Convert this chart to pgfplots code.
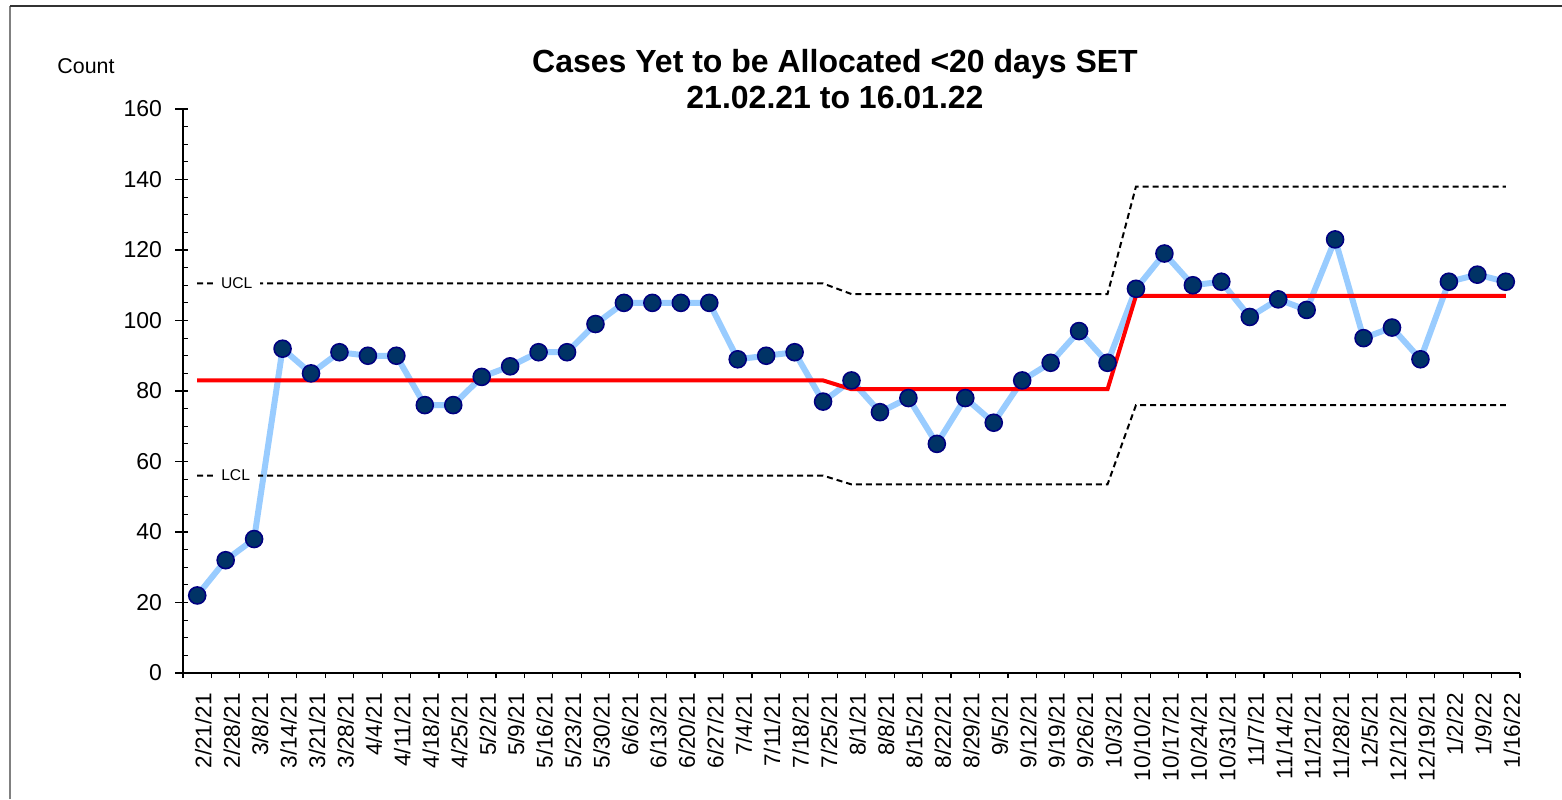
\documentclass[border=0pt]{standalone}
\usepackage{pgfplots}
\pgfplotsset{compat=1.18}
\usepackage{fontspec}
\setmainfont{Liberation Sans}
\definecolor{linebl}{HTML}{99CCFF}
\definecolor{mkfill}{HTML}{003366}
\definecolor{mkdraw}{HTML}{000080}
\begin{document}
\begin{tikzpicture}
\useasboundingbox (0,0) rectangle (781pt,399.5pt);
\draw[black!50,line width=1pt] (5pt,0) -- (5pt,396.5pt);
\draw[black!80,line width=1pt] (5pt,396.5pt) -- (781pt,396.5pt);
\node[font=\bfseries\fontsize{16}{18}\selectfont,align=center] at (417.5pt,360pt)
  {Cases Yet to be Allocated <20 days SET\\21.02.21 to 16.01.22};
\node[font=\fontsize{10.7}{12}\selectfont] at (43pt,366.5pt) {Count};
\begin{axis}[
  at={(91.5pt,63pt)},anchor=south west,
  scale only axis,width=668.5pt,height=282pt,
  axis lines=left,axis line style={-,line width=0.6pt},
  xmin=-0.5,xmax=46.5,ymin=0,ymax=160,
  ytick={0,20,...,160},minor y tick num=3,
  xtick={0,...,46},
  minor xtick={-0.5,0.5,...,46.5},
  xticklabels={2/21/21,2/28/21,3/8/21,3/14/21,3/21/21,3/28/21,4/4/21,4/11/21,4/18/21,4/25/21,5/2/21,5/9/21,5/16/21,5/23/21,5/30/21,6/6/21,6/13/21,6/20/21,6/27/21,7/4/21,7/11/21,7/18/21,7/25/21,8/1/21,8/8/21,8/15/21,8/22/21,8/29/21,9/5/21,9/12/21,9/19/21,9/26/21,10/3/21,10/10/21,10/17/21,10/24/21,10/31/21,11/7/21,11/14/21,11/21/21,11/28/21,12/5/21,12/12/21,12/19/21,1/2/22,1/9/22,1/16/22},
  tick align=outside,
  major tick length=6.5pt,minor tick length=2.5pt,
  major x tick style={draw=none},
  minor x tick style={black,line width=0.6pt},
  major y tick style={black,line width=0.6pt,xshift=2.5pt},
  minor y tick style={black,line width=0.6pt,xshift=2.5pt},
  x tick label style={rotate=90,anchor=east,font=\fontsize{11.3}{12}\selectfont,yshift=-3pt},
  y tick label style={font=\fontsize{11.5}{12}\selectfont,xshift=-0.5pt},
  /pgf/number format/assume math mode=true,
  clip=false,
]
\addplot[linebl,line width=3pt,mark=*,mark size=4.25pt,
  mark options={fill=mkfill,draw=mkdraw,line width=0.8pt}] coordinates {
(0,22)(1,32)(2,38)(3,92)(4,85)(5,91)(6,90)(7,90)(8,76)(9,76)
(10,84)(11,87)(12,91)(13,91)(14,99)(15,105)(16,105)(17,105)(18,105)(19,89)
(20,90)(21,91)(22,77)(23,83)(24,74)(25,78)(26,65)(27,78)(28,71)(29,83)
(30,88)(31,97)(32,88)(33,109)(34,119)(35,110)(36,111)(37,101)(38,106)(39,103)
(40,123)(41,95)(42,98)(43,89)(44,111)(45,113)(46,111)};
\addplot[red,line width=2pt] coordinates {
(0,83)(22,83)(23,80.5)(32,80.5)(33,107)(46,107)};
\addplot[black,line width=1pt,dash pattern=on 3pt off 2pt] coordinates {
(0,110.5)(22,110.5)(23,107.5)(32,107.5)(33,138)(46,138)};
\addplot[black,line width=1pt,dash pattern=on 3pt off 2pt] coordinates {
(0,56)(22,56)(23,53.5)(32,53.5)(33,76)(46,76)};
\node[fill=white,inner xsep=4pt,inner ysep=1pt,font=\fontsize{7.8}{8}\selectfont] at (axis cs:1.39,110.5) {UCL};
\node[fill=white,inner xsep=4pt,inner ysep=1pt,font=\fontsize{7.8}{8}\selectfont] at (axis cs:1.35,56) {LCL};
\end{axis}
\end{tikzpicture}
\end{document}
